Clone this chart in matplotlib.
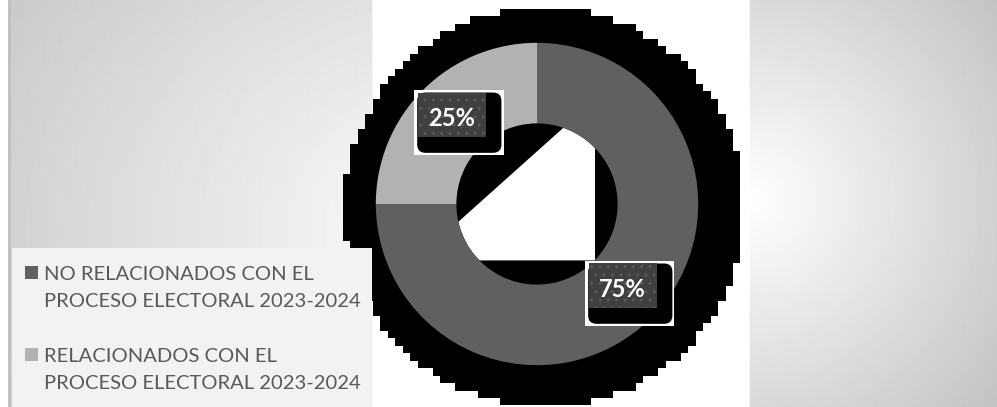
import numpy as np
import matplotlib
matplotlib.use('Agg')
import matplotlib.pyplot as plt
from matplotlib.patches import Rectangle, FancyBboxPatch, Circle, Polygon

# data
categories = ['NO RELACIONADOS CON EL\nPROCESO ELECTORAL 2023-2024',
              'RELACIONADOS CON EL\nPROCESO ELECTORAL 2023-2024']
values = [75, 25]
colors = ['#606060', '#b2b2b2']

W, H = 997, 407
fig = plt.figure(figsize=(W / 100, H / 100), dpi=100)

# background panels (gradients)
yy, xx = np.mgrid[0:H, 0:W]
bg = np.ones((H, W))
d_left = np.hypot((xx - 470) * 1.0, (yy - 230) * 1.3)
left = np.clip(1 - 0.2 * d_left / 530, 0.78, 1)
bg = np.where(xx < 372, left, bg)
d_right = np.hypot(xx - 750, yy - 200)
right = np.clip(1 - 0.22 * d_right / 300, 0.74, 1)
bg = np.where(xx >= 749, right, bg)
bg[:, 8:11] = 0.76
bg[:, :8] = 1.0
bg_ax = fig.add_axes([0, 0, 1, 1], zorder=-10)
bg_ax.imshow(bg, cmap='gray', vmin=0, vmax=1, aspect='auto', interpolation='bilinear')
bg_ax.axis('off')

# legend box on top
fig.add_artist(Rectangle((12 / W, 0), 360 / W, (H - 248) / H, transform=fig.transFigure,
                         facecolor='#f2f2f2', edgecolor='none', zorder=5))

# donut axes: center (537, 204) px, outer radius 155 px
R = 155.0
cx, cy = 537, 204
half = 1.3 * R
ax = fig.add_axes([(cx - half) / W, (H - cy - half) / H, 2 * half / W, 2 * half / H])
ax.set_xlim(-1.3, 1.3)
ax.set_ylim(-1.3, 1.3)
ax.axis('off')

# blocky black shadow behind the ring
n = 56
cs = np.linspace(-1.3, 1.3, n + 1)
cc = (cs[:-1] + cs[1:]) / 2
gx, gy = np.meshgrid(cc, cc[::-1])
mask = np.hypot(gx - 0.04, gy + 0.022) < 1.24
rgba = np.zeros((n, n, 4))
rgba[mask, 3] = 1.0
ax.imshow(rgba, extent=(-1.3, 1.3, -1.3, 1.3), interpolation='nearest', zorder=0)

wedges, _ = ax.pie(values, colors=colors, startangle=90, counterclock=False,
                   radius=1, wedgeprops=dict(width=0.5, edgecolor='none'))
for w in wedges:
    w.set_zorder(2)

# hole: black with a white cut
hole = Circle((0, 0), 0.5, facecolor='black', edgecolor='none', zorder=1)
ax.add_patch(hole)
cut = Polygon([(-0.7, -0.3), (0.25, 0.55), (0.36, 0.70), (0.36, -0.35), (-0.7, -0.35)],
              closed=True, facecolor='white', edgecolor='none', zorder=1.5)
ax.add_patch(cut)
cut.set_clip_path(hole)

# percentage labels
p = 1 / R
for w, v in zip(wedges, values):
    ang = np.deg2rad((w.theta1 + w.theta2) / 2)
    tx, ty = 0.75 * np.cos(ang), 0.75 * np.sin(ang)
    ax.add_patch(Rectangle((tx - 36 * p, ty - 35 * p), 86 * p, 62 * p,
                           facecolor='white', edgecolor='none', zorder=3))
    ax.add_patch(FancyBboxPatch((tx - 31 * p, ty - 31 * p), 77 * p, 54 * p,
                                boxstyle='round,pad=%f,rounding_size=%f' % (2 * p, 8 * p),
                                facecolor='black', edgecolor='none', zorder=4))
    ax.add_patch(Rectangle((tx - 32 * p, ty - 18 * p), 65 * p, 43 * p,
                           facecolor='#404040', edgecolor='#5a5a5a', hatch='..',
                           linewidth=0, zorder=5))
    ax.text(tx, ty, f'{v}%', color='white', fontsize=17, fontweight='bold',
            family='Lato', ha='center', va='center', zorder=6)

# legend (square beside the first line of each entry)
first_baselines = [280, 362]
for lab, col, yb in zip(categories, colors, first_baselines):
    fig.add_artist(Rectangle((25 / W, (H - yb + 1) / H), 13 / W, 13 / H,
                             transform=fig.transFigure, facecolor=col,
                             edgecolor='none', zorder=6))
    for i, line in enumerate(lab.split('\n')):
        fig.text(44 / W, (H - yb - 27 * i) / H, line, color='#595959', fontsize=14.5,
                 family='Lato', ha='left', va='baseline', zorder=7)

fig.savefig('out.png', dpi=100)
